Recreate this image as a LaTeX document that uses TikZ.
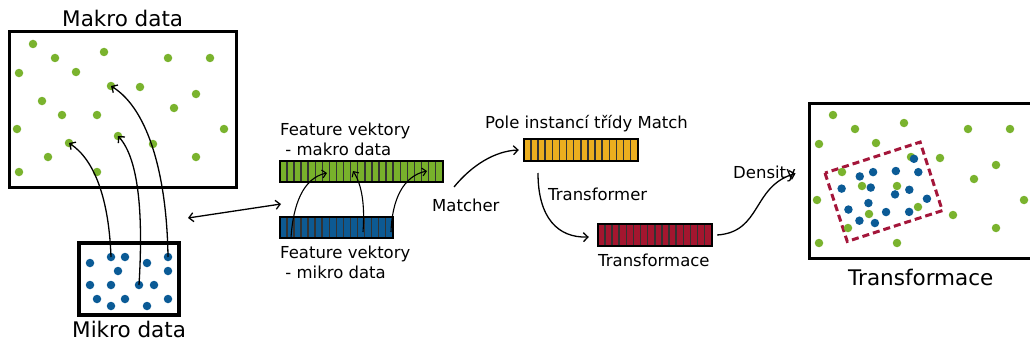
\documentclass[tikz,border=0pt]{standalone}
\usepackage{fontspec}
\setmainfont{DejaVu Sans}
\usetikzlibrary{arrows.meta}

\definecolor{dotgreen}{HTML}{7AB32E}
\definecolor{dotblue}{HTML}{0B5B96}
\definecolor{bargreen}{HTML}{78B12B}
\definecolor{barblue}{HTML}{0D5A93}
\definecolor{baryellow}{HTML}{EBAE1F}
\definecolor{barred}{HTML}{A4162F}
\definecolor{boxred}{HTML}{A4163A}

% a bar of n cells: name, centre, width, height, n, fill
\newcommand\cellbar[6]{%
  \node[bar, fill=#6, minimum width=#3pt, minimum height=#4pt] (#1) at #2 {};
  \foreach \i in {1,...,\numexpr#5-1\relax}
    \draw[cellline] ([xshift=\i*#3pt/#5]#1.north west) -- ([xshift=\i*#3pt/#5]#1.south west);
  \draw[line width=1.8pt] (#1.north west) rectangle (#1.south east);
}

\tikzset{
  gdot/.style={circle, fill=dotgreen, inner sep=0pt, minimum size=8.5pt},
  bdot/.style={circle, fill=dotblue, inner sep=0pt, minimum size=8.5pt},
  databox/.style={draw=black, line width=3pt, inner sep=0pt},
  bar/.style={draw=none, inner sep=0pt},
  cellline/.style={draw=black!80, line width=1.4pt},
  arr/.style={line width=1.3pt, -{Straight Barb[length=4.5pt,width=9pt]}},
  thinarr/.style={line width=1.1pt, -{Straight Barb[length=4pt,width=8pt]}},
  dblarr/.style={line width=1.3pt, {Straight Barb[length=4.5pt,width=9pt]}-{Straight Barb[length=4.5pt,width=9pt]}},
  small/.style={inner sep=0pt, anchor=base west, font=\fontsize{16.5}{20}\selectfont},
  big/.style={inner sep=0pt, anchor=base west, font=\fontsize{21.5}{26}\selectfont},
}

\begin{document}
\begin{tikzpicture}[x=1pt, y=-1pt]
\useasboundingbox (0,0) rectangle (1030,345);
\clip (0,0) rectangle (1030,345);

% ---------- macro data ----------
\node[databox, minimum width=227pt, minimum height=155pt] (makro) at (122.5,109.5) {};
\node[big] (makrolbl) at (62,27) {Makro data};
\foreach \x/\y [count=\i] in {33/44,55/58,104/52,168/58,210/58,19/73,76/72,111/86,140/87,196/94,
    42/101,62/115,97/115,174/108,17/129,224/129,69/143,118/136,153/144,48/157,196/157,19/172,97/172}
  \node[gdot] (m\i) at (\x,\y) {};

% ---------- micro data ----------
\node[databox, line width=3.5pt, minimum width=100pt, minimum height=72pt] (mikro) at (129,279) {};
\node[big] (mikrolbl) at (72,337) {Mikro data};
\foreach \x/\y [count=\i] in {111/257,125/257,168/257,90/263,147/263,118/271,168/271,90/285,
    111/285,139/285,154/285,97/299,125/299,168/299,111/306,147/306}
  \node[bdot] (u\i) at (\x,\y) {};

% micro points mapped onto macro points
\draw[arr] (u1.center) .. controls (109,200) and (95,160) .. (m17.center);
\draw[arr] (u10.center) .. controls (143,220) and (140,160) .. (m18.center);
\draw[arr] (u3.center) .. controls (167,180) and (150,110) .. (m8.center);

% ---------- feature vectors ----------
\coordinate (dl) at (188,218);
\coordinate (dr) at (281,204);
\draw[dblarr] (dl) -- (dr);

\cellbar{fvmakro}{(361.5,171.5)}{163}{21}{23}{bargreen}
\cellbar{fvmikro}{(336.5,227.5)}{113}{21}{16}{barblue}
\node[small] (fvmakrolbl1) at (280,135) {Feature vektory};
\node[small] (fvmakrolbl2) at (280,155) {\ - makro data};
\node[small] (fvmikrolbl1) at (280,258) {Feature vektory};
\node[small] (fvmikrolbl2) at (280,278) {\ - mikro data};

\coordinate (f1s) at (291,238);
\coordinate (f1e) at (327,173);
\coordinate (f2s) at (363,232);
\coordinate (f2e) at (353,171);
\coordinate (f3s) at (391,232);
\coordinate (f3e) at (427,171);
\draw[thinarr] (f1s) .. controls (293,205) and (303,178) .. (f1e);
\draw[thinarr] (f2s) .. controls (365,205) and (362,185) .. (f2e);
\draw[thinarr] (f3s) .. controls (392,200) and (403,176) .. (f3e);

% ---------- matches ----------
\cellbar{matches}{(581,150)}{114}{22}{16}{baryellow}
\node[small] (matchlbl) at (485,128) {Pole instancí třídy Match};
\node[small] (matcherlbl) at (432,211) {Matcher};
\coordinate (ms) at (454,187);
\draw[arr] (ms) .. controls (472,165) and (495,151) .. ([xshift=-5pt]matches.west);

% ---------- transformations ----------
\cellbar{transf}{(655,235)}{114}{22}{16}{barred}
\node[small] (transfrlbl) at (548,200) {Transformer};
\node[small] (transflbl) at (598,266) {Transformace};
\coordinate (ts) at (538,173);
\draw[arr] (ts) .. controls (538,218) and (558,238) .. ([xshift=-9pt,yshift=-2pt]transf.west);

% ---------- transformed data ----------
\node[databox, minimum width=227pt, minimum height=155pt] (result) at (922.5,180.5) {};
\node[big] (resultlbl) at (848,285) {Transformace};
\node[small] (denslbl) at (733,178) {Density};
\draw[arr] ([xshift=5pt]transf.east) .. controls (762,232) and (752,186) .. ([xshift=-12pt,yshift=7pt]result.west);

\begin{scope}[shift={(825,173)}, rotate=18, shift={(-79,-243)}]
  \draw[boxred, line width=3pt, dash pattern=on 7pt off 4pt] (79,243) rectangle (179,315);
\end{scope}
\begin{scope}[shift={(800,71)}]
  \foreach \x/\y [count=\i] in {33/44,55/58,104/52,168/58,210/58,19/73,76/72,111/86,140/87,196/94,
      42/101,62/115,97/115,174/108,17/129,224/129,69/143,118/136,153/144,48/157,196/157,19/172,97/172}
    \node[gdot] (t\i) at (\x,\y) {};
\end{scope}
\begin{scope}[shift={(825,173)}, rotate=18, shift={(-79,-243)}]
  \foreach \x/\y [count=\i] in {111/257,125/257,168/257,90/263,147/263,118/271,168/271,90/285,
      111/285,139/285,154/285,97/299,125/299,168/299,111/306,147/306}
    \node[bdot] (r\i) at (\x,\y) {};
\end{scope}
\end{tikzpicture}
\end{document}
